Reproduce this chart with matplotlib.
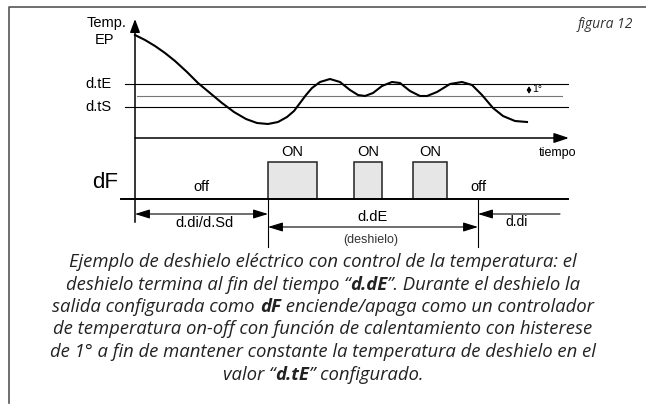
import matplotlib.pyplot as plt
from matplotlib.patches import Rectangle

# temperature curve (pixel coords, y down)
curve_x = [135, 145, 155, 165, 175, 187, 198, 210, 222, 234, 246, 257, 268, 278,
           287, 294, 300, 306, 312, 320, 330, 340, 350, 358, 365, 373, 382, 392,
           400, 410, 420, 427, 437, 450, 462, 472, 482, 493, 503, 515, 527]
curve_y = [35, 40, 46, 53, 61, 72, 83, 93, 103, 112, 119, 123, 124, 122,
           117, 111, 103, 95, 88, 82, 79, 82, 90, 95, 96, 93, 86, 82,
           83, 91, 96, 96, 92, 84, 82, 85, 95, 108, 116, 121, 122]

levels_y = {'d.tE': 84, 'mid': 96, 'd.tS': 107}
pulse_start = [268, 354, 413]
pulse_end = [317, 382, 447]
df_base, df_top = 199, 162

# caption lines as (text, bold) pieces
caption = [
    [('Ejemplo de deshielo eléctrico con control de la temperatura: el', False)],
    [('deshielo termina al fin del tiempo “', False), ('d.dE', True),
     ('”. Durante el deshielo la', False)],
    [('salida configurada como ', False), ('dF', True),
     (' enciende/apaga como un controlador', False)],
    [('de temperatura on-off con función de calentamiento con histerese', False)],
    [('de 1° a fin de mantener constante la temperatura de deshielo en el', False)],
    [('valor “', False), ('d.tE', True), ('” configurado.', False)],
]

fig = plt.figure(figsize=(6.46, 4.08), dpi=100)
ax = fig.add_axes([0, 0, 1, 1])
ax.set_xlim(0, 646)
ax.set_ylim(408, 0)
ax.axis('off')

sans = 'Liberation Sans'
k = 'black'

# frame
ax.plot([9, 9, 646], [403, 7, 7], color='#555555', lw=1.2)
ax.text(633, 25, 'figura 12', ha='right', va='center', fontsize=10,
        family='Open Sans', style='italic', color='#333333')

# axes
ax.plot([135, 135], [222, 24], color=k, lw=1.1)
ax.annotate('', xy=(135, 19), xytext=(135, 30),
            arrowprops=dict(arrowstyle='-|>,head_length=0.8,head_width=0.3',
                            color=k, lw=1.1, shrinkA=0, shrinkB=0, mutation_scale=10))
ax.annotate('', xy=(569, 138), xytext=(135, 138),
            arrowprops=dict(arrowstyle='-|>,head_length=0.9,head_width=0.3',
                            color=k, lw=1.1, shrinkA=0, shrinkB=0, mutation_scale=10))

# reference levels
ax.plot([125, 568], [levels_y['d.tE']] * 2, color=k, lw=0.8)
ax.plot([137, 562], [levels_y['mid']] * 2, color='#777777', lw=0.8)
ax.plot([125, 568], [levels_y['d.tS']] * 2, color=k, lw=0.8)
ax.text(98, levels_y['d.tE'], 'd.tE', ha='center', va='center', fontsize=10.5, family=sans)
ax.text(98, levels_y['d.tS'], 'd.tS', ha='center', va='center', fontsize=10.5, family=sans)
ax.text(107, 23, 'Temp.', ha='center', va='center', fontsize=10.5, family=sans)
ax.text(105, 40, 'EP', ha='center', va='center', fontsize=10.5, family=sans)
ax.text(558, 153, 'tiempo', ha='center', va='center', fontsize=9, family=sans)

# hysteresis 1°
ax.annotate('', xy=(529, 86), xytext=(529, 94),
            arrowprops=dict(arrowstyle='<|-|>,head_length=0.25,head_width=0.12',
                            color=k, lw=0.8, shrinkA=0, shrinkB=0, mutation_scale=10))
ax.text(532, 89, '1°', ha='left', va='center', fontsize=7.5, family=sans)

ax.plot(curve_x, curve_y, color=k, lw=1.5, solid_joinstyle='round')

# dF output
ax.plot([121, 568], [df_base, df_base], color=k, lw=1.4)
for x0, x1 in zip(pulse_start, pulse_end):
    ax.add_patch(Rectangle((x0, df_top), x1 - x0, df_base - df_top,
                           facecolor='#e6e6e6', edgecolor='#222222', lw=1.1))
    ax.text((x0 + x1) / 2, 152, 'ON', ha='center', va='center', fontsize=10.5,
            family=sans)
ax.text(105, 183, 'dF', ha='center', va='center', fontsize=16, family=sans)
ax.text(201, 187, 'off', ha='center', va='center', fontsize=10.5, family=sans)
ax.text(478, 187, 'off', ha='center', va='center', fontsize=10.5, family=sans)

# timing dimensions
ax.plot([268, 268], [df_base, 247], color=k, lw=0.8)
ax.plot([478, 478], [df_base, 247], color=k, lw=0.8)
dim = dict(color=k, lw=0.8, shrinkA=0, shrinkB=0, mutation_scale=10)
ax.annotate('', xy=(268, 214), xytext=(135, 214),
            arrowprops=dict(arrowstyle='<|-|>,head_length=0.9,head_width=0.28', **dim))
ax.annotate('', xy=(478, 227), xytext=(268, 227),
            arrowprops=dict(arrowstyle='<|-|>,head_length=0.9,head_width=0.28', **dim))
ax.annotate('', xy=(478, 214), xytext=(560, 214),
            arrowprops=dict(arrowstyle='-|>,head_length=0.9,head_width=0.28', **dim))
ax.text(205, 223, 'd.di/d.Sd', ha='center', va='center', fontsize=10.5, family=sans)
ax.text(372, 217, 'd.dE', ha='center', va='center', fontsize=10.5, family=sans)
ax.text(371, 240, '(deshielo)', ha='center', va='center', fontsize=9, family=sans,
        color='#333333')
ax.text(517, 222, 'd.di', ha='center', va='center', fontsize=10, family=sans)

# caption: pieces laid out left to right, each line centred
renderer = fig.canvas.get_renderer()
for i, pieces in enumerate(caption):
    y = 262 + i * 22.5
    texts = []
    for s, bold in pieces:
        t = ax.text(0, y, s, ha='left', va='center', fontsize=13.3,
                    family='Open Sans', style='italic',
                    weight='bold' if bold else 'normal', color='#222222')
        texts.append(t)
    widths = [t.get_window_extent(renderer).width for t in texts]
    x = 323 - sum(widths) / 2
    for t, w in zip(texts, widths):
        t.set_x(x)
        x += w

fig.savefig('out.png', dpi=100)
